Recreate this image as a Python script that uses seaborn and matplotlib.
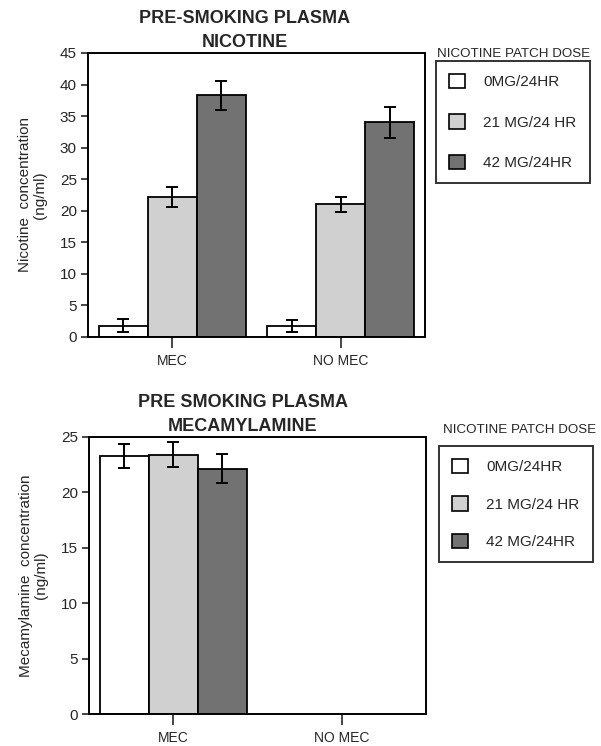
import numpy as np
import pandas as pd
import matplotlib
matplotlib.use("Agg")
import matplotlib.pyplot as plt
from matplotlib.patches import Patch
import seaborn as sns

categories = ["MEC", "NO MEC"]
doses = ["0MG/24HR", "21 MG/24 HR", "42 MG/24HR"]
nicotine_mean = {"0MG/24HR": [1.8, 1.75], "21 MG/24 HR": [22.2, 21.0], "42 MG/24HR": [38.3, 34.0]}
nicotine_err = {"0MG/24HR": [1.0, 0.95], "21 MG/24 HR": [1.6, 1.15], "42 MG/24HR": [2.3, 2.5]}
mec_mean = {"0MG/24HR": [23.3, np.nan], "21 MG/24 HR": [23.4, np.nan], "42 MG/24HR": [22.15, np.nan]}
mec_err = {"0MG/24HR": [1.1, np.nan], "21 MG/24 HR": [1.15, np.nan], "42 MG/24HR": [1.3, np.nan]}
colors = ["#ffffff", "#d0d0d0", "#727272"]

sns.set_theme(style="white")
plt.rcParams['font.family'] = ['Liberation Sans', 'DejaVu Sans']
NARROW = ['Liberation Sans Narrow', 'Liberation Sans', 'DejaVu Sans']

def make_df(means):
    rows = []
    for d in doses:
        for c, v in zip(categories, means[d]):
            rows.append({"group": c, "dose": d, "value": v})
    return pd.DataFrame(rows)

fig = plt.figure(figsize=(6.01, 7.46), dpi=100)
W, H = 601, 746
ax1 = fig.add_axes([88 / W, 1 - 337 / H, 337 / W, (337 - 53) / H])
ax2 = fig.add_axes([89 / W, 1 - 714 / H, 337 / W, (714 - 437) / H])

def draw(ax, means, errs, ymax, ystep, ylabel, title, title_x, leg_top, lspace, title_pos):
    df = make_df(means)
    sns.barplot(data=df.dropna(), x="group", y="value", hue="dose", order=categories,
                hue_order=doses, palette=colors, width=0.87, edgecolor="black",
                linewidth=1.3, errorbar=None, ax=ax, legend=False, saturation=1)
    bar_containers = list(ax.containers)
    for i, cont in enumerate(bar_containers):
        d = doses[i]
        for bar in cont:
            xc = bar.get_x() + bar.get_width() / 2
            ci = int(round(xc))
            h = bar.get_height()
            e = errs[d][ci]
            if np.isnan(e):
                continue
            ax.errorbar(xc, h, yerr=e, fmt="none", ecolor="black", elinewidth=1.4,
                        capsize=4.5, capthick=1.4, zorder=5)
    ax.set_xlim(-0.5, 1.5)
    ax.set_ylim(0, ymax)
    ax.set_yticks(np.arange(0, ymax + 0.1, ystep))
    ax.set_xlabel("")
    ax.set_ylabel(ylabel, fontsize=11, linespacing=1.15, labelpad=9)
    for s in ax.spines.values():
        s.set_linewidth(1.4)
        s.set_color("black")
    ax.tick_params(axis="y", direction="out", length=5, width=1.2, labelsize=11, left=True, pad=3)
    ax.tick_params(axis="x", direction="out", length=8, width=1.2, bottom=True, pad=4)
    for lab in ax.get_xticklabels():
        lab.set_fontfamily(NARROW)
        lab.set_fontsize(10)
    ax.set_title(title, fontsize=13, fontweight="bold", family=NARROW, linespacing=1.55,
                 x=title_x, pad=4)
    handles = [Patch(facecolor=c, edgecolor="black", linewidth=1.2) for c in colors]
    leg = ax.legend(handles, doses, loc="upper left", bbox_to_anchor=(leg_top[0] / W, 1 - leg_top[1] / H),
                    bbox_transform=fig.transFigure, borderaxespad=0, frameon=True, fancybox=False,
                    edgecolor="black", fontsize=11, handlelength=1.05, handleheight=1.05,
                    labelspacing=lspace, borderpad=0.85, handletextpad=1.2)
    leg.get_frame().set_linewidth(1.4)
    fig.text(title_pos[0] / W, 1 - title_pos[1] / H, "NICOTINE PATCH DOSE", family=NARROW,
             fontsize=9.6, va="center", ha="left")

draw(ax1, nicotine_mean, nicotine_err, 45, 5, "Nicotine  concentration\n(ng/ml)",
     "PRE-SMOKING PLASMA\nNICOTINE", 0.466, (436, 61), 1.65, (437, 54))
draw(ax2, mec_mean, mec_err, 25, 5, "Mecamylamine  concentration\n(ng/ml)",
     "PRE SMOKING PLASMA\nMECAMYLAMINE", 0.457, (439, 446), 1.45, (443, 430))

fig.savefig("out.png", dpi=100, facecolor="white")
